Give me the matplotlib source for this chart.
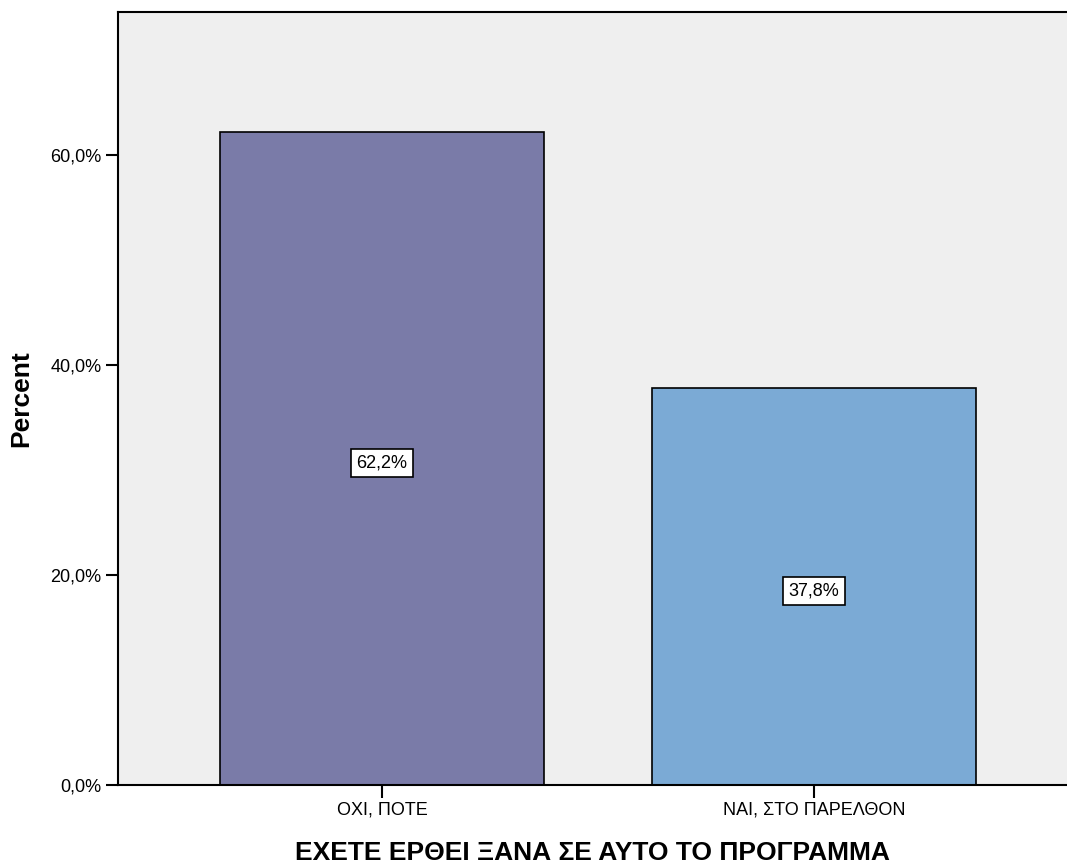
import matplotlib.pyplot as plt
from matplotlib.ticker import FuncFormatter

plt.rcParams['font.family'] = ['Liberation Sans', 'DejaVu Sans']

# 数据
categories = ['ΟΧΙ, ΠΟΤΕ', 'ΝΑΙ, ΣΤΟ ΠΑΡΕΛΘΟΝ']
percents = [62.2, 37.8]
colors = ['#7a7ba8', '#7baad5']

fig = plt.figure(figsize=(10.67, 8.64), dpi=100)
ax = fig.add_axes([0.1106, 0.0914, 0.8894, 0.8947])
ax.set_facecolor('#efefef')

x = list(range(len(categories)))
bars = ax.bar(x, percents, width=0.75, color=colors, edgecolor='black', linewidth=1.2, zorder=2)

for xi, v in zip(x, percents):
    ax.text(xi, v / 2 - 0.4, ('%.1f%%' % v).replace('.', ','), ha='center', va='center', fontsize=13,
            bbox=dict(boxstyle='square,pad=0.3', facecolor='white', edgecolor='black', linewidth=1.2),
            zorder=3)

ax.set_xlim(-0.611, 1.586)
ax.set_ylim(0, 73.6)
ax.set_yticks([0, 20, 40, 60])
ax.yaxis.set_major_formatter(FuncFormatter(lambda v, p: ('%.1f%%' % v).replace('.', ',')))
ax.set_xticks(x)
ax.set_xticklabels(categories)
ax.tick_params(axis='both', direction='out', length=9, width=1.5, labelsize=13, pad=3)

for s in ['left', 'bottom', 'top']:
    ax.spines[s].set_linewidth(1.5)
ax.spines['right'].set_visible(False)

ax.set_ylabel('Percent', fontsize=19, fontweight='bold', labelpad=12)
ax.set_xlabel('ΕΧΕΤΕ ΕΡΘΕΙ ΞΑΝΑ ΣΕ ΑΥΤΟ ΤΟ ΠΡΟΓΡΑΜΜΑ', fontsize=19, fontweight='bold', labelpad=16)

plt.savefig('out.png', dpi=100)
